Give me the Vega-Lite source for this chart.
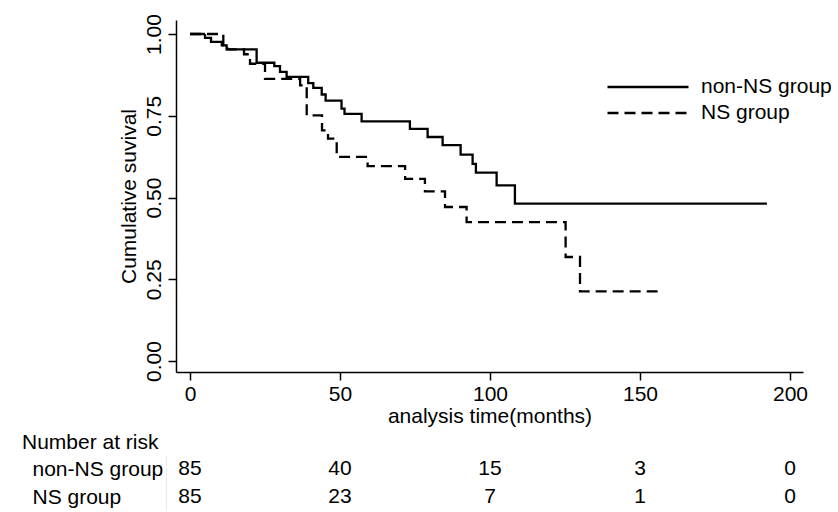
{
  "$schema": "https://vega.github.io/schema/vega-lite/v6.json",
  "background": "#ffffff",
  "padding": {"left": 22, "top": 13, "right": 0, "bottom": 0},
  "spacing": 6,
  "config": {
    "font": "Liberation Sans",
    "view": {"stroke": null},
    "axis": {"labelFont": "Liberation Sans", "titleFont": "Liberation Sans", "labelColor": "#000000", "titleColor": "#000000", "domainColor": "#000000", "tickColor": "#000000", "grid": false},
    "legend": {"labelFont": "Liberation Sans"},
    "title": {"font": "Liberation Sans"}
  },
  "datasets": {
    "curves": [
      {"group": "non-NS group", "time": 0, "surv": 1.0},
      {"group": "non-NS group", "time": 5, "surv": 0.988},
      {"group": "non-NS group", "time": 7, "surv": 0.976},
      {"group": "non-NS group", "time": 10.6, "surv": 0.965},
      {"group": "non-NS group", "time": 12.2, "surv": 0.953},
      {"group": "non-NS group", "time": 22.2, "surv": 0.912},
      {"group": "non-NS group", "time": 28.1, "surv": 0.902},
      {"group": "non-NS group", "time": 30, "surv": 0.884},
      {"group": "non-NS group", "time": 32.2, "surv": 0.869},
      {"group": "non-NS group", "time": 39.4, "surv": 0.85},
      {"group": "non-NS group", "time": 41.1, "surv": 0.835},
      {"group": "non-NS group", "time": 43.9, "surv": 0.815},
      {"group": "non-NS group", "time": 45.2, "surv": 0.796},
      {"group": "non-NS group", "time": 50.5, "surv": 0.772},
      {"group": "non-NS group", "time": 51.5, "surv": 0.756},
      {"group": "non-NS group", "time": 57.2, "surv": 0.733},
      {"group": "non-NS group", "time": 73.3, "surv": 0.71},
      {"group": "non-NS group", "time": 79.2, "surv": 0.685},
      {"group": "non-NS group", "time": 84.2, "surv": 0.66},
      {"group": "non-NS group", "time": 90.2, "surv": 0.631},
      {"group": "non-NS group", "time": 94.2, "surv": 0.603},
      {"group": "non-NS group", "time": 95.3, "surv": 0.576},
      {"group": "non-NS group", "time": 102.2, "surv": 0.537},
      {"group": "non-NS group", "time": 108.3, "surv": 0.481},
      {"group": "non-NS group", "time": 192.3, "surv": 0.481},
      {"group": "NS group", "time": 0, "surv": 1.0},
      {"group": "NS group", "time": 11.1, "surv": 0.965},
      {"group": "NS group", "time": 12.5, "surv": 0.953},
      {"group": "NS group", "time": 18, "surv": 0.938},
      {"group": "NS group", "time": 20, "surv": 0.909},
      {"group": "NS group", "time": 25, "surv": 0.863},
      {"group": "NS group", "time": 36.7, "surv": 0.843},
      {"group": "NS group", "time": 38.9, "surv": 0.751},
      {"group": "NS group", "time": 44, "surv": 0.705},
      {"group": "NS group", "time": 46, "surv": 0.68},
      {"group": "NS group", "time": 48.9, "surv": 0.624},
      {"group": "NS group", "time": 59.2, "surv": 0.596},
      {"group": "NS group", "time": 71.7, "surv": 0.557},
      {"group": "NS group", "time": 78.3, "surv": 0.519},
      {"group": "NS group", "time": 85, "surv": 0.471},
      {"group": "NS group", "time": 92.2, "surv": 0.425},
      {"group": "NS group", "time": 125.2, "surv": 0.318},
      {"group": "NS group", "time": 130, "surv": 0.213},
      {"group": "NS group", "time": 156.3, "surv": 0.213}
    ],
    "risk": [
      {"group": "non-NS group", "time": 0, "n": 85},
      {"group": "non-NS group", "time": 50, "n": 40},
      {"group": "non-NS group", "time": 100, "n": 15},
      {"group": "non-NS group", "time": 150, "n": 3},
      {"group": "non-NS group", "time": 200, "n": 0},
      {"group": "NS group", "time": 0, "n": 85},
      {"group": "NS group", "time": 50, "n": 23},
      {"group": "NS group", "time": 100, "n": 7},
      {"group": "NS group", "time": 150, "n": 1},
      {"group": "NS group", "time": 200, "n": 0}
    ]
  },
  "resolve": {"scale": {"x": "independent", "y": "independent"}},
  "vconcat": [
    {
      "width": 627,
      "height": 352,
      "data": {"name": "curves"},
      "mark": {"type": "line", "interpolate": "step-after", "color": "#000000", "strokeWidth": 2.3, "strokeCap": "butt"},
      "encoding": {
        "x": {
          "field": "time",
          "type": "quantitative",
          "scale": {"domain": [-4.67, 204.33], "nice": false, "zero": false},
          "axis": {
            "title": "analysis time(months)",
            "values": [0, 50, 100, 150, 200],
            "titleFontSize": 21,
            "titleFontWeight": "normal",
            "titlePadding": 1,
            "labelFontSize": 21,
            "labelPadding": 3,
            "tickSize": 8,
            "tickWidth": 1.5,
            "domainWidth": 1.5,
            "labelFlush": false
          }
        },
        "y": {
          "field": "surv",
          "type": "quantitative",
          "scale": {"domain": [-0.0336, 1.0428], "nice": false, "zero": false},
          "axis": {
            "title": "Cumulative suvival",
            "values": [0, 0.25, 0.5, 0.75, 1],
            "format": ".2f",
            "titleFontSize": 21,
            "titleFontWeight": "normal",
            "titlePadding": 4,
            "labelFontSize": 21,
            "labelAngle": -90,
            "labelAlign": "center",
            "labelBaseline": "alphabetic",
            "labelPadding": 8,
            "tickSize": 8,
            "tickWidth": 1.5,
            "domainWidth": 1.5,
            "labelFlush": false
          }
        },
        "strokeDash": {
          "field": "group",
          "type": "nominal",
          "scale": {"domain": ["non-NS group", "NS group"], "range": [[1, 0], [11, 6]]},
          "legend": {
            "title": null,
            "orient": "none",
            "legendX": 430,
            "legendY": 54,
            "symbolType": "stroke",
            "symbolSize": 6561,
            "symbolStrokeWidth": 2.3,
            "symbolStrokeColor": "#000000",
            "clipHeight": 26,
            "rowPadding": 0,
            "labelFontSize": 21,
            "labelColor": "#000000",
            "labelOffset": 11
          }
        }
      }
    },
    {
      "width": 627,
      "height": 56,
      "data": {"name": "risk"},
      "title": {
        "text": "Number at risk",
        "anchor": "start",
        "frame": "group",
        "dx": -154,
        "offset": 2,
        "fontSize": 21,
        "fontWeight": "normal",
        "color": "#000000"
      },
      "mark": {"type": "text", "fontSize": 21, "color": "#000000", "baseline": "middle", "align": "center"},
      "encoding": {
        "x": {
          "field": "time",
          "type": "quantitative",
          "scale": {"domain": [-4.67, 204.33], "nice": false, "zero": false},
          "axis": null
        },
        "y": {
          "field": "group",
          "type": "nominal",
          "sort": ["non-NS group", "NS group"],
          "scale": {"paddingInner": 0, "paddingOuter": 0},
          "axis": {
            "title": null,
            "ticks": false,
            "tickSize": 0,
            "offset": 10,
            "domainColor": "#e8e8e8",
            "domainWidth": 1,
            "labelAlign": "left",
            "labelPadding": 134,
            "labelFontSize": 21
          }
        },
        "text": {"field": "n", "type": "quantitative"}
      }
    }
  ]
}
